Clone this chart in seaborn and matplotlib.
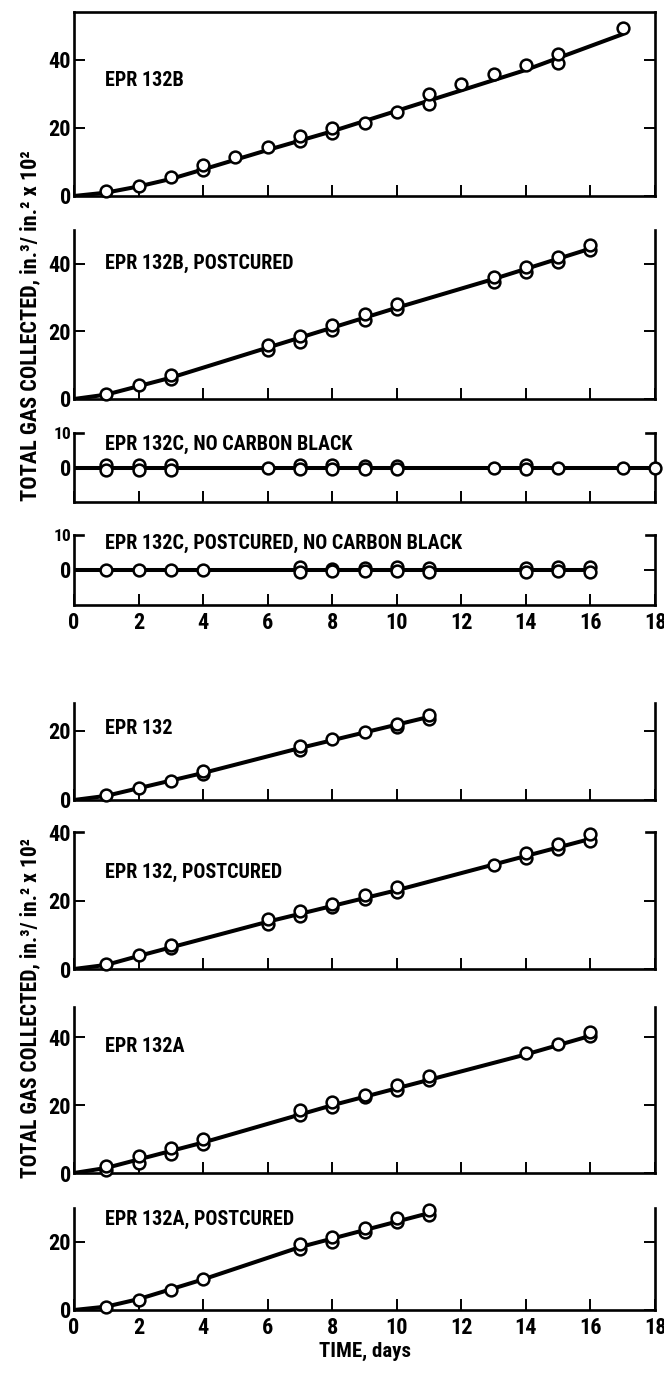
import matplotlib
matplotlib.use("Agg")
import matplotlib.pyplot as plt
from matplotlib import font_manager
import seaborn as sns

sns.set_style("ticks")

# pick a condensed bold sans if available
names = {f.name for f in font_manager.fontManager.ttflist}
dejavu_cond = any(f.name == 'DejaVu Sans' and 'Condensed' in f.fname
                  for f in font_manager.fontManager.ttflist)
family = None
stretch = 'normal'
for cand in ['Liberation Sans Narrow', 'Roboto Condensed', 'Open Sans Condensed', 'Noto Sans Condensed']:
    if cand in names:
        family = cand
        break
if family is None:
    if dejavu_cond:
        family = 'DejaVu Sans'
        stretch = 'condensed'
    else:
        family = 'Roboto'
plt.rcParams['font.family'] = [family, 'DejaVu Sans']
plt.rcParams['font.stretch'] = stretch
plt.rcParams['font.weight'] = 'bold'
for k in ('text.color', 'axes.labelcolor', 'xtick.color', 'ytick.color'):
    plt.rcParams[k] = 'black'

# ---------------- data ----------------
titles = ["EPR 132B", "EPR 132B, POSTCURED", "EPR 132C, NO CARBON BLACK",
          "EPR 132C, POSTCURED, NO CARBON BLACK", "EPR 132", "EPR 132, POSTCURED",
          "EPR 132A", "EPR 132A, POSTCURED"]

p1_x = [1, 2, 3, 4, 4, 5, 6, 7, 7, 8, 8, 9, 10, 11, 11, 12, 13, 14, 15, 15, 17]
p1_y = [1.5, 3, 5.5, 7.5, 9, 11.5, 14.5, 16, 17.5, 18.5, 20, 21.5, 24.7, 27, 30, 33, 35.9, 38.3, 39.1, 41.8, 49.4]
p1_lx = [0, 1, 2, 3, 4, 6, 8, 10, 12, 14, 17]
p1_ly = [0, 1, 2.8, 5, 7.8, 13.5, 19, 25, 31, 37, 47.5]

p2_x = [1, 2, 3, 3, 6, 6, 7, 7, 8, 8, 9, 9, 10, 10, 13, 13, 14, 14, 15, 15, 16, 16]
p2_y = [1.5, 4, 6, 7, 14.5, 16, 17, 18.5, 20.5, 22, 23.5, 25, 26.5, 28, 34.5, 36, 37.5, 39, 40.5, 42, 44, 45.5]
p2_lx = [0, 1, 2, 3, 6, 10, 13, 16]
p2_ly = [0, 1.3, 3.8, 6.3, 15.2, 27, 35.5, 44.5]

p3_x = [1, 1, 2, 2, 3, 3, 6, 7, 7, 8, 8, 9, 9, 10, 10, 13, 14, 14, 15, 17, 18]
p3_y = [0.6, -0.8, 0.6, -0.8, 0.6, -0.8, 0, 0.6, -0.5, 0.6, -0.3, 0.3, -0.3, 0.3, -0.3, 0, 0.6, -0.3, 0, 0, 0]
p3_lx = [0, 18]
p3_ly = [0, 0]

p4_x = [1, 2, 3, 4, 7, 7, 8, 8, 9, 9, 10, 10, 11, 11, 14, 14, 15, 15, 16, 16]
p4_y = [0, 0, 0, 0, 0.8, -0.5, 0.3, -0.3, 0.5, -0.3, 0.8, -0.3, 0.5, -0.5, 0.5, -0.5, 0.8, -0.2, 0.8, -0.5]
p4_lx = [0, 16]
p4_ly = [0, 0]

p5_x = [1, 2, 3, 4, 4, 7, 7, 8, 9, 10, 10, 11, 11]
p5_y = [1.5, 3.5, 5.5, 7.5, 8.5, 14.5, 15.5, 17.5, 19.5, 21, 22, 23.5, 24.5]
p5_lx = [0, 1, 4, 7, 11]
p5_ly = [0, 1.2, 7.8, 15, 24]

p6_x = [1, 2, 3, 3, 6, 6, 7, 7, 8, 8, 9, 9, 10, 10, 13, 14, 14, 15, 15, 16, 16]
p6_y = [1.5, 4, 6, 7, 13, 14.5, 15.5, 17, 18, 19, 20.5, 21.5, 22.5, 24, 30.5, 32.5, 34, 35, 36.5, 37.5, 39.5]
p6_lx = [0, 1, 2, 3, 6, 10, 13, 16]
p6_ly = [0, 1.2, 3.8, 6.3, 13.8, 23, 30.5, 38]

p7_x = [1, 1, 2, 2, 3, 3, 4, 4, 7, 7, 8, 8, 9, 9, 10, 10, 11, 11, 14, 15, 16, 16]
p7_y = [1, 2, 3, 5, 5.5, 7.5, 8.5, 10, 17, 18.5, 19.5, 21, 22.5, 23, 24.5, 26, 27.5, 28.5, 35.5, 38, 40.5, 41.5]
p7_lx = [0, 1, 4, 8, 11, 14, 16]
p7_ly = [0, 1.5, 9, 20, 27.5, 35, 40.5]

p8_x = [1, 2, 3, 4, 7, 7, 8, 8, 9, 9, 10, 10, 11, 11]
p8_y = [1, 3, 6, 9, 18, 19.5, 20, 21.5, 23, 24, 26, 27, 28, 29.5]
p8_lx = [0, 1, 2, 4, 7, 11]
p8_ly = [0, 1, 3.2, 9, 18.5, 28.5]

ylims = [(0, 54), (0, 50), (-10, 10), (-10, 10), (0, 28), (0, 40), (0, 49), (0, 30)]
yticks = [[0, 20, 40], [0, 20, 40], [0, 10], [0, 10], [0, 20], [0, 20, 40], [0, 20, 40], [0, 20]]
text_y = [34, 40, 6.6, 7.7, 20.6, 28.3, 37.4, 26.5]
xticks = list(range(0, 19, 2))
ylabel = "TOTAL GAS COLLECTED, in.³/ in.² x 10²"
xlabel = "TIME, days"

points = [(p1_x, p1_y), (p2_x, p2_y), (p3_x, p3_y), (p4_x, p4_y),
          (p5_x, p5_y), (p6_x, p6_y), (p7_x, p7_y), (p8_x, p8_y)]
lines = [(p1_lx, p1_ly), (p2_lx, p2_ly), (p3_lx, p3_ly), (p4_lx, p4_ly),
         (p5_lx, p5_ly), (p6_lx, p6_ly), (p7_lx, p7_ly), (p8_lx, p8_ly)]

# ---------------- layout (pixels from top) ----------------
W, H = 664, 1374
frames = [(12, 196), (230, 399), (433, 502), (535, 605),
          (703, 800), (832, 969), (1007, 1173), (1208, 1310)]
x_left, x_right = 74, 655
styles = ['box', 'open', 'hook', 'hook', 'open', 'hook', 'open', 'open']
show_xlabels = [False, False, False, True, False, False, False, True]
hidden_tick = [None, None, 1, 1, None, 2, None, None]

fig = plt.figure(figsize=(W / 100, H / 100), dpi=100)
SLW = 1.9

for i in range(8):
    top, bot = frames[i]
    ax = fig.add_axes([x_left / W, 1 - bot / H, (x_right - x_left) / W, (bot - top) / H])
    lx, ly = lines[i]
    px, py = points[i]
    sns.lineplot(x=lx, y=ly, ax=ax, color='black', linewidth=2.9, zorder=2)
    sns.scatterplot(x=px, y=py, ax=ax, marker='o', s=72, facecolor='white',
                    edgecolor='black', linewidth=1.8, zorder=3, clip_on=False)
    ax.set_xlim(0, 18)
    ax.set_ylim(*ylims[i])
    ax.set_xticks(xticks)
    ax.set_yticks(yticks[i], [str(t) for t in yticks[i]])
    for sp in ax.spines.values():
        sp.set_linewidth(SLW)
        sp.set_color('black')
    if styles[i] != 'box':
        ax.spines['top'].set_visible(False)
    if styles[i] == 'hook':
        for xs in ([0, 0.016], [0.984, 1.0]):
            ax.plot(xs, [1, 1], transform=ax.transAxes, color='black', lw=SLW,
                    clip_on=False, solid_capstyle='projecting')
    ax.tick_params(axis='x', direction='in', bottom=True, top=False, length=8,
                   width=1.4, labelsize=16, pad=5, labelbottom=show_xlabels[i])
    ax.tick_params(axis='y', direction='in', left=True, right=True, length=8,
                   width=1.4, labelsize=16, pad=2)
    if hidden_tick[i] is not None:
        tk = ax.yaxis.get_major_ticks()[hidden_tick[i]]
        tk.tick1line.set_visible(False)
        tk.tick2line.set_visible(False)
    if i in (2, 3):
        ax.get_yticklabels()[1].set_fontsize(12.5)
    for lab in ax.get_xticklabels() + ax.get_yticklabels():
        lab.set_fontweight('bold')
    ax.set_xlabel('')
    ax.set_ylabel('')
    ax.text(0.95, text_y[i], titles[i], fontsize=14.5, fontweight='bold',
            ha='left', va='center')

fig.text(30 / W, 1 - 326 / H, ylabel, rotation=90, ha='center', va='center',
         fontsize=16, fontweight='bold')
fig.text(30 / W, 1 - 1008 / H, ylabel, rotation=90, ha='center', va='center',
         fontsize=15.5, fontweight='bold')
fig.text(365 / W, 1 - 1351 / H, xlabel, ha='center', va='center',
         fontsize=15, fontweight='bold')

fig.savefig("out.png", dpi=100, facecolor='white')
